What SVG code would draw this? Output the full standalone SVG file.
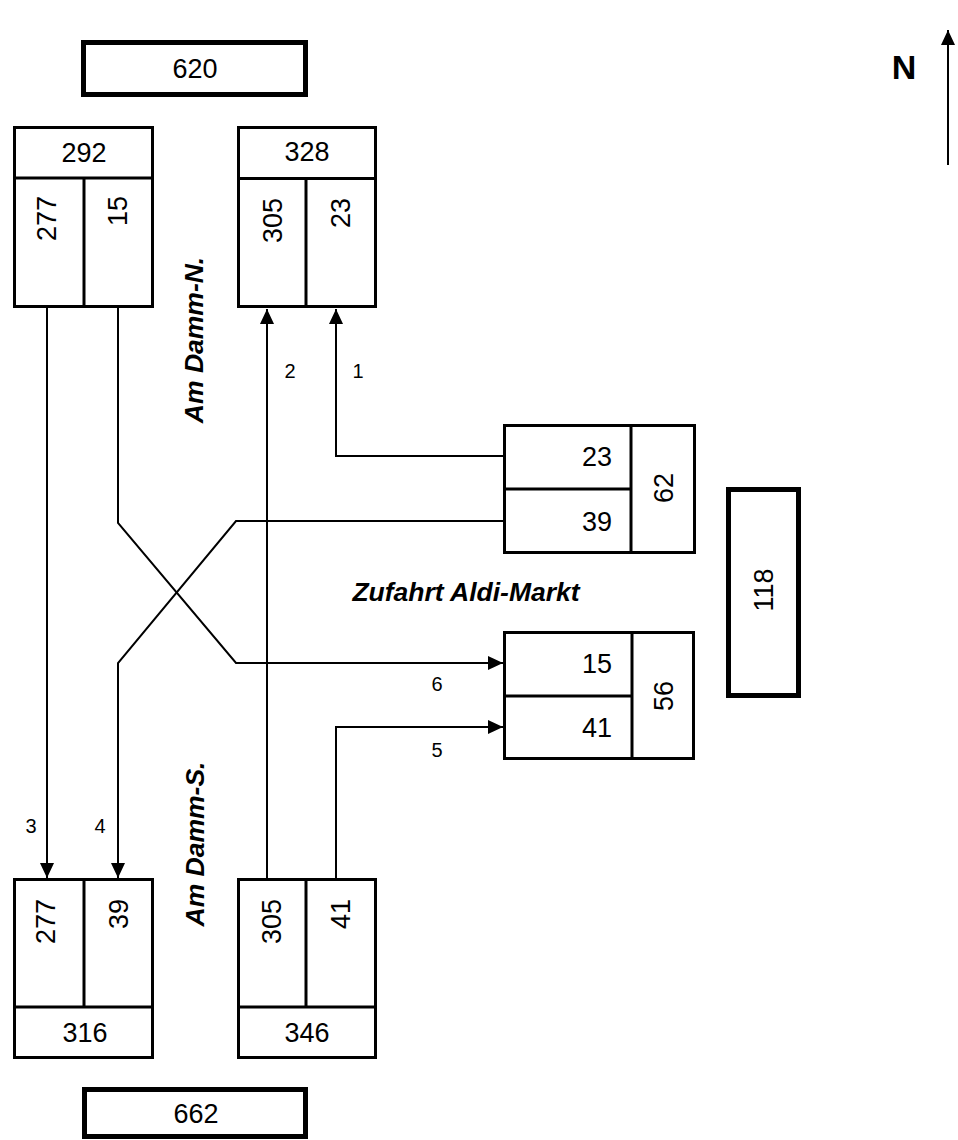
<svg xmlns="http://www.w3.org/2000/svg" width="958" height="1140" viewBox="0 0 958 1140">
<style>
.box{fill:#fff;stroke:#000;stroke-width:3}
.thick{fill:#fff;stroke:#000;stroke-width:5}
.div{stroke:#000;stroke-width:3;fill:none}
.con{stroke:#000;stroke-width:2;fill:none}
.num{font-family:"Liberation Sans",Arial,sans-serif;font-size:27px;fill:#000}
.lbl{font-family:"Liberation Sans",Arial,sans-serif;font-size:20px;fill:#000}
.street{font-family:"Liberation Sans",Arial,sans-serif;font-size:26.5px;font-weight:bold;font-style:italic;fill:#000}
.north{font-family:"Liberation Sans",Arial,sans-serif;font-size:34px;font-weight:bold;fill:#000}
</style>
<defs>
<marker id="arr" viewBox="0 0 15 14" refX="15" refY="7" markerWidth="15" markerHeight="14" markerUnits="userSpaceOnUse" orient="auto">
<path d="M0,0 L15,7 L0,14 z" fill="#000"/>
</marker>
</defs>
<rect width="958" height="1140" fill="#fff"/>

<g id="connectors">
<polyline class="con" points="503,456 336,456 336,309" marker-end="url(#arr)"/>
<line class="con" x1="267" y1="878" x2="267" y2="309" marker-end="url(#arr)"/>
<line class="con" x1="47" y1="308" x2="47" y2="878" marker-end="url(#arr)"/>
<polyline class="con" points="503,521 236,521 118,663 118,878" marker-end="url(#arr)"/>
<polyline class="con" points="118,308 118,523 236,663 503,663" marker-end="url(#arr)"/>
<polyline class="con" points="336,878 336,727 503,727" marker-end="url(#arr)"/>
<line class="con" x1="948" y1="165" x2="948" y2="30" marker-end="url(#arr)"/>
</g>

<g id="labels">
<text class="lbl" x="358" y="378" text-anchor="middle">1</text>
<text class="lbl" x="290" y="378" text-anchor="middle">2</text>
<text class="lbl" x="31" y="833" text-anchor="middle">3</text>
<text class="lbl" x="100" y="833" text-anchor="middle">4</text>
<text class="lbl" x="437" y="691" text-anchor="middle">6</text>
<text class="lbl" x="437" y="757" text-anchor="middle">5</text>
<text class="street" x="466" y="601" text-anchor="middle">Zufahrt Aldi-Markt</text>
<text class="street" transform="translate(203,340) rotate(-90)" text-anchor="middle">Am Damm-N.</text>
<text class="street" transform="translate(204,844) rotate(-90)" text-anchor="middle">Am Damm-S.</text>
<text class="north" x="904" y="79" text-anchor="middle">N</text>
</g>

<g id="n620">
<rect class="thick" x="83.5" y="42.5" width="222" height="52"/>
<text class="num" x="195" y="78" text-anchor="middle">620</text>
</g>

<g id="n292">
<rect class="box" x="14.5" y="127.5" width="138" height="179"/>
<line class="div" x1="14.5" y1="178" x2="152.5" y2="178"/>
<line class="div" x1="84" y1="178" x2="84" y2="306.5"/>
<text class="num" x="84" y="162" text-anchor="middle">292</text>
<text class="num" transform="translate(56,196) rotate(-90)" text-anchor="end">277</text>
<text class="num" transform="translate(127,196) rotate(-90)" text-anchor="end">15</text>
</g>

<g id="n328">
<rect class="box" x="238.5" y="127.5" width="137" height="179"/>
<line class="div" x1="238.5" y1="178.5" x2="375.5" y2="178.5"/>
<line class="div" x1="306" y1="178.5" x2="306" y2="306.5"/>
<text class="num" x="307" y="161" text-anchor="middle">328</text>
<text class="num" transform="translate(282,198) rotate(-90)" text-anchor="end">305</text>
<text class="num" transform="translate(350,198) rotate(-90)" text-anchor="end">23</text>
</g>

<g id="n62">
<rect class="box" x="504.5" y="425.5" width="190" height="127"/>
<line class="div" x1="631" y1="425.5" x2="631" y2="552.5"/>
<line class="div" x1="504.5" y1="489" x2="631" y2="489"/>
<text class="num" x="612" y="466" text-anchor="end">23</text>
<text class="num" x="612" y="531" text-anchor="end">39</text>
<text class="num" transform="translate(673,488) rotate(-90)" text-anchor="middle">62</text>
</g>

<g id="n56">
<rect class="box" x="504.5" y="632.5" width="189" height="126"/>
<line class="div" x1="632" y1="632.5" x2="632" y2="758.5"/>
<line class="div" x1="504.5" y1="696" x2="632" y2="696"/>
<text class="num" x="612" y="673" text-anchor="end">15</text>
<text class="num" x="612" y="737" text-anchor="end">41</text>
<text class="num" transform="translate(673,696) rotate(-90)" text-anchor="middle">56</text>
</g>

<g id="n118">
<rect class="thick" x="728.5" y="489.5" width="70" height="206"/>
<text class="num" transform="translate(773,590) rotate(-90)" text-anchor="middle">118</text>
</g>

<g id="n316">
<rect class="box" x="14.5" y="879.5" width="138" height="178"/>
<line class="div" x1="14.5" y1="1007" x2="152.5" y2="1007"/>
<line class="div" x1="84" y1="879.5" x2="84" y2="1007"/>
<text class="num" transform="translate(55,899) rotate(-90)" text-anchor="end">277</text>
<text class="num" transform="translate(128,899) rotate(-90)" text-anchor="end">39</text>
<text class="num" x="85" y="1042" text-anchor="middle">316</text>
</g>

<g id="n346">
<rect class="box" x="238.5" y="879.5" width="137" height="178"/>
<line class="div" x1="238.5" y1="1007" x2="375.5" y2="1007"/>
<line class="div" x1="306" y1="879.5" x2="306" y2="1007"/>
<text class="num" transform="translate(281,899) rotate(-90)" text-anchor="end">305</text>
<text class="num" transform="translate(350,899) rotate(-90)" text-anchor="end">41</text>
<text class="num" x="307" y="1042" text-anchor="middle">346</text>
</g>

<g id="n662">
<rect class="thick" x="84.5" y="1089.5" width="221" height="47"/>
<text class="num" x="196" y="1123" text-anchor="middle">662</text>
</g>
</svg>
